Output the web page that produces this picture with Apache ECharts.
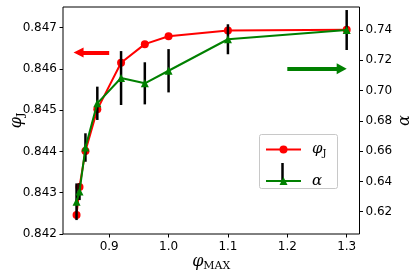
<!DOCTYPE html>
<html><head><meta charset="utf-8">
<script src="https://cdn.jsdelivr.net/npm/echarts@6/dist/echarts.min.js"></script>
<style>html,body{margin:0;padding:0;background:#fff}#c{width:415px;height:274px}</style>
</head><body><div id="c"></div>
<script>
const phiMax = [0.845, 0.85, 0.86, 0.88, 0.92, 0.96, 1.0, 1.1, 1.3];
const phiJ = [0.84246, 0.84314, 0.84401, 0.84502, 0.84615, 0.84660, 0.84679, 0.84693, 0.84695];
const alpha = [0.6266, 0.6333, 0.6624, 0.6916, 0.7083, 0.7048, 0.7131, 0.7339, 0.7400];
const alphaErr = [0.0121, 0.0056, 0.0094, 0.0110, 0.0178, 0.0139, 0.0143, 0.0099, 0.0132];
const xTicks = [0.9, 1.0, 1.1, 1.2, 1.3];
const leftTicks = [0.842, 0.843, 0.844, 0.845, 0.846, 0.847];
const rightTicks = [0.62, 0.64, 0.66, 0.68, 0.70, 0.72, 0.74];
const redArrow = [[0.9, 0.8464], [0.8484, 0.8464]];
const greenArrow = [[1.2, 0.7145], [1.2916, 0.7145]];

const RED = '#ff0000', GREEN = '#008000';
const rich = {
  v: {fontFamily: 'DejaVu Serif', fontStyle: 'italic', fontSize: 16, lineHeight: 20, color: '#000'},
  s: {fontFamily: 'DejaVu Serif', fontSize: 11, lineHeight: 20, verticalAlign: 'bottom', color: '#000'},
  a: {fontFamily: 'DejaVu Serif', fontStyle: 'italic', fontSize: 16, lineHeight: 20, color: '#000'}
};
const lrich = {
  v: {fontFamily: 'DejaVu Serif', fontStyle: 'italic', fontSize: 15, lineHeight: 18, color: '#000', padding: [0, 0, 0, 6]},
  s: {fontFamily: 'DejaVu Serif', fontSize: 10, lineHeight: 18, verticalAlign: 'bottom', color: '#000'},
  a: {fontFamily: 'DejaVu Serif', fontStyle: 'italic', fontSize: 15, lineHeight: 18, color: '#000', padding: [0, 0, 0, 6]}
};
const labelFont = {fontFamily: 'DejaVu Sans', fontSize: 12, color: '#000'};
const tick = {show: true, inside: false, length: 3.5, lineStyle: {color: '#000', width: 1}};

const redData = phiMax.map((x, i) => [x, phiJ[i]]);
const greenData = phiMax.map((x, i) => [x, alpha[i]]);
const errData = phiMax.map((x, i) => [x, alpha[i] - alphaErr[i], alpha[i] + alphaErr[i]]);

const chart = echarts.init(document.getElementById('c'), null, {renderer: 'canvas'});
chart.setOption({
  animation: false,
  backgroundColor: '#fff',
  grid: {left: 63, right: 55.5, top: 7, bottom: 40, containLabel: false, outerBoundsMode: 'none',
    show: true, borderColor: '#000', borderWidth: 1, backgroundColor: 'transparent'},
  xAxis: {
    type: 'value', min: 0.8222, max: 1.3216,
    axisLine: {show: false},
    axisTick: Object.assign({customValues: xTicks}, tick),
    axisLabel: Object.assign({customValues: xTicks, margin: 7, formatter: v => v.toFixed(1)}, labelFont),
    splitLine: {show: false},
    name: '{v|φ}{s|MAX}', nameLocation: 'middle', nameGap: 18, nameMoveOverlap: false,
    nameTextStyle: {rich: rich}
  },
  yAxis: [{
    type: 'value', min: 0.842, max: 0.8475, position: 'left',
    axisLine: {show: false},
    axisTick: Object.assign({customValues: leftTicks}, tick),
    axisLabel: Object.assign({customValues: leftTicks, margin: 6, formatter: v => v.toFixed(3)}, labelFont),
    splitLine: {show: false},
    name: '{v|φ}{s|J}', nameLocation: 'middle', nameGap: 36, nameRotate: 90, nameMoveOverlap: false,
    nameTextStyle: {rich: rich}
  }, {
    type: 'value', min: 0.6053, max: 0.7552, position: 'right',
    axisLine: {show: false},
    axisTick: Object.assign({customValues: rightTicks}, tick),
    axisLabel: Object.assign({customValues: rightTicks, margin: 6, formatter: v => v.toFixed(2)}, labelFont),
    splitLine: {show: false},
    name: '{a|α}', nameLocation: 'middle', nameGap: 35, nameRotate: 90, nameMoveOverlap: false,
    nameTextStyle: {rich: rich}
  }],
  legend: {
    left: 265, top: 142, orient: 'vertical', padding: 0,
    itemWidth: 35, itemHeight: 10, itemGap: 15,
    backgroundColor: 'transparent', z: 20,
    data: ['phiJ', 'alpha'],
    formatter: n => n === 'phiJ' ? '{v|φ}{s|J}' : '{a|α}',
    textStyle: {rich: lrich}
  },
  graphic: [
    {type: 'rect', z: 15, shape: {x: 259.5, y: 134.5, width: 78, height: 54, r: 2}, style: {fill: '#fff', stroke: '#c8c8c8', lineWidth: 1}},
    {type: 'line', z: 16, shape: {x1: 282.5, y1: 163, x2: 282.5, y2: 181}, style: {stroke: '#000', lineWidth: 2.5}}
  ],
  series: [{
    name: 'phiJ', type: 'line', yAxisIndex: 0, z: 2, data: redData,
    symbol: 'circle', symbolSize: 8,
    lineStyle: {color: RED, width: 2}, itemStyle: {color: RED},
    markLine: {
      silent: true, symbol: ['none', 'triangle'], symbolSize: [10, 10],
      label: {show: false}, lineStyle: {color: RED, width: 4, type: 'solid'},
      emphasis: {disabled: true},
      data: [[{coord: redArrow[0]}, {coord: redArrow[1]}]]
    }
  }, {
    name: 'err', type: 'custom', yAxisIndex: 1, z: 3, data: errData,
    encode: {x: 0, y: [1, 2]},
    renderItem: (params, api) => {
      const p1 = api.coord([api.value(0), api.value(1)]);
      const p2 = api.coord([api.value(0), api.value(2)]);
      return {type: 'line', z2: 0, shape: {x1: p1[0], y1: p1[1], x2: p2[0], y2: p2[1]}, style: {stroke: '#000', lineWidth: 2.5}};
    }
  }, {
    name: 'alpha', type: 'line', yAxisIndex: 1, z: 8, data: greenData,
    symbol: 'triangle', symbolSize: 8,
    lineStyle: {color: GREEN, width: 2}, itemStyle: {color: GREEN},
    markLine: {
      silent: true, symbol: ['none', 'triangle'], symbolSize: [11, 10],
      label: {show: false}, lineStyle: {color: GREEN, width: 4, type: 'solid'},
      emphasis: {disabled: true},
      data: [[{coord: greenArrow[0]}, {coord: greenArrow[1]}]]
    }
  }]
});
</script></body></html>
